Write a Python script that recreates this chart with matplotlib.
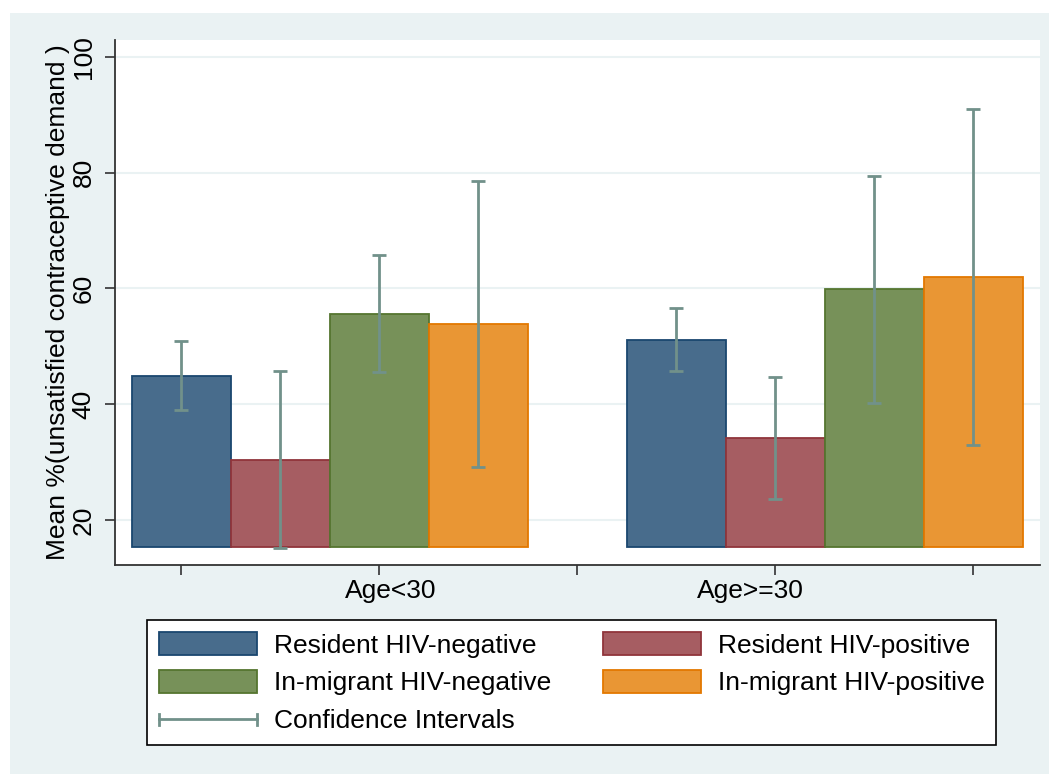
import matplotlib.pyplot as plt
from matplotlib.patches import Rectangle
from matplotlib.lines import Line2D
from matplotlib.legend_handler import HandlerBase

plt.rcParams['font.family'] = ['Liberation Sans', 'DejaVu Sans']

# data
groups = ['Age<30', 'Age>=30']
series = ['Resident HIV-negative', 'Resident HIV-positive',
          'In-migrant HIV-negative', 'In-migrant HIV-positive']
res_neg = [44.9, 51.1]
res_pos = [30.4, 34.1]
mig_neg = [55.6, 59.9]
mig_pos = [53.8, 61.9]
res_neg_ci = [(39.0, 50.9), (45.7, 56.7)]
res_pos_ci = [(15.1, 45.8), (23.6, 44.7)]
mig_neg_ci = [(45.5, 65.8), (40.3, 79.5)]
mig_pos_ci = [(29.1, 78.5), (32.9, 91.0)]
bar_base = 15.3
yticks = [20, 40, 60, 80, 100]

means = [res_neg, res_pos, mig_neg, mig_pos]
cis = [res_neg_ci, res_pos_ci, mig_neg_ci, mig_pos_ci]
fills = ['#486C8C', '#A65D62', '#779159', '#E99634']
edges = ['#1A476F', '#90353B', '#55752F', '#E37800']
ci_color = '#71918A'

W, H = 1049, 774
fig = plt.figure(figsize=(W / 100, H / 100), dpi=100)
fig.patch.set_facecolor('white')
fig.add_artist(Rectangle((10 / W, 0), 1 - 10 / W, 1 - 13 / H, transform=fig.transFigure,
                         facecolor='#EAF2F3', edgecolor='none', zorder=0))

ax = fig.add_axes([114.6 / W, 1 - 565 / H, (1040 - 114.6) / W, (565 - 40) / H])
ax.set_facecolor('white')

for s in range(len(series)):
    xs = [g * 2.5 + s * 0.5 for g in range(len(groups))]
    heights = [m - bar_base for m in means[s]]
    ax.bar(xs, heights, bottom=bar_base, width=0.5, color=fills[s],
           edgecolor=edges[s], linewidth=1.3, zorder=2)
    lo = [means[s][g] - cis[s][g][0] for g in range(len(groups))]
    hi = [cis[s][g][1] - means[s][g] for g in range(len(groups))]
    ax.errorbar(xs, means[s], yerr=[lo, hi], fmt='none', ecolor=ci_color,
                elinewidth=2, capsize=5, capthick=2, zorder=3)

ax.set_xlim(-0.3354, 4.338)
ax.set_ylim(12.24, 102.9)
ax.set_yticks(yticks)
ax.set_yticklabels([str(t) for t in yticks], rotation=90, va='center')
ax.set_xticks([0, 1, 2, 3, 4])
ax.set_xticklabels([])
ax.set_xticks([1.061, 2.876], minor=True)
ax.set_xticklabels(groups, minor=True)
ax.tick_params(axis='x', which='minor', length=0, pad=10, labelsize=19)
ax.tick_params(axis='both', which='major', length=7.5, width=1.2, color='#333333', labelsize=19)
ax.tick_params(axis='y', pad=6)
ax.yaxis.grid(True, color='#EAF2F3', linewidth=1.5)
ax.set_axisbelow(True)
for side in ['top', 'right']:
    ax.spines[side].set_visible(False)
for side in ['left', 'bottom']:
    ax.spines[side].set_color('#333333')
    ax.spines[side].set_linewidth(1.3)
ax.set_ylabel('Mean %(unsatisfied contraceptive demand )', fontsize=19, labelpad=1.5)


class HandlerCI(HandlerBase):
    def create_artists(self, legend, orig_handle, xdescent, ydescent, width, height, fontsize, trans):
        y = height / 2 - ydescent
        x0, x1 = -xdescent, -xdescent + width
        c = height * 0.23
        kw = dict(color=ci_color, linewidth=2, transform=trans)
        return [Line2D([x0, x1], [y, y], **kw), Line2D([x0, x0], [y - c, y + c], **kw),
                Line2D([x1, x1], [y - c, y + c], **kw)]


patches = [Rectangle((0, 0), 1, 1, facecolor=fills[i], edgecolor=edges[i], linewidth=1.3)
           for i in range(len(series))]
ci_handle = Line2D([], [])
handles = [patches[0], patches[2], ci_handle, patches[1], patches[3]]
labels = [series[0], series[2], 'Confidence Intervals', series[1], series[3]]
leg = fig.legend(handles, labels, ncol=2, loc='upper left',
                 bbox_to_anchor=(147 / W, 1 - 620 / H),
                 fontsize=19, frameon=True, fancybox=False, framealpha=1,
                 handlelength=3.7, handleheight=1.0, handletextpad=0.65,
                 columnspacing=1.97, borderpad=0.45, labelspacing=0.45, borderaxespad=0,
                 handler_map={ci_handle: HandlerCI()})
leg.get_frame().set_edgecolor('black')
leg.get_frame().set_facecolor('white')
leg.get_frame().set_linewidth(1.2)

fig.savefig('out.png', dpi=100)
